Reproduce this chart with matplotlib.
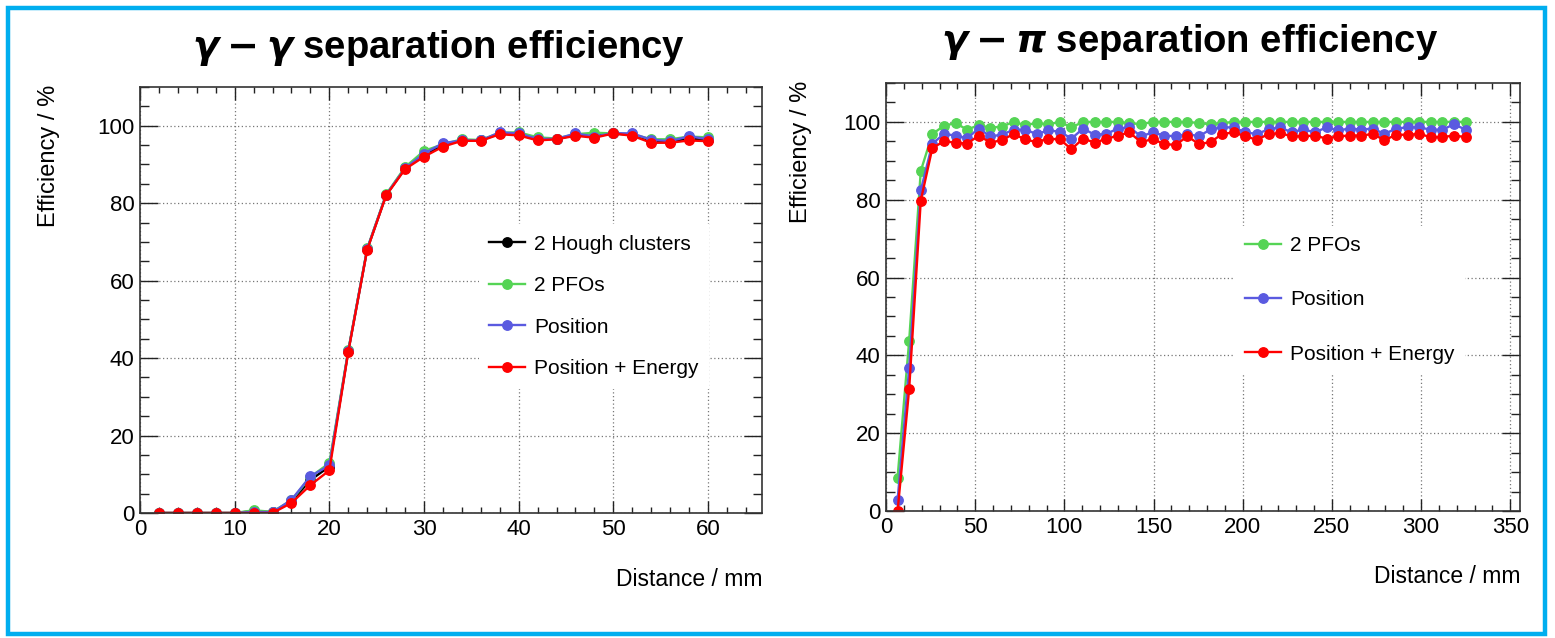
import matplotlib
matplotlib.use("Agg")
import matplotlib.pyplot as plt
from matplotlib.patches import Rectangle
from matplotlib.ticker import MultipleLocator

# gamma - gamma : distances (mm) et efficacites (%)
gg_dist = [2, 4, 6, 8, 10, 12, 14, 16, 18, 20, 22, 24, 26, 28, 30,
           32, 34, 36, 38, 40, 42, 44, 46, 48, 50, 52, 54, 56, 58, 60]
gg_hough = [0, 0, 0, 0, 0, 0.5, 0.2, 3.0, 8.5, 12.0, 41.8, 68.1, 82.1, 89.0, 92.5,
            95.0, 96.2, 96.2, 98.0, 97.8, 96.5, 96.6, 97.6, 97.3, 98.0, 97.6, 96.0, 95.8, 96.8, 96.3]
gg_pfo = [0, 0, 0, 0, 0, 0.7, 0.3, 3.3, 9.3, 12.9, 42.0, 68.3, 82.3, 89.3, 93.5,
          95.2, 96.5, 96.3, 98.2, 98.3, 97.0, 96.7, 97.8, 98.2, 98.0, 97.8, 96.5, 96.5, 97.2, 97.0]
gg_pos = [0, 0, 0, 0, 0, 0.3, 0.2, 3.4, 9.5, 12.3, 41.8, 68.2, 82.2, 89.0, 92.8,
          95.5, 96.2, 96.2, 98.3, 98.0, 96.6, 96.6, 98.0, 97.2, 98.1, 98.0, 96.4, 96.0, 97.3, 96.5]
gg_pose = [0, 0, 0, 0, 0, 0, 0, 2.6, 7.2, 11.0, 41.6, 68.0, 82.0, 88.8, 92.0,
           94.6, 96.1, 96.1, 97.8, 97.5, 96.2, 96.5, 97.4, 96.9, 98.0, 97.4, 95.6, 95.6, 96.2, 96.0]

# gamma - pi
gp_dist = [6.5, 13, 19.5, 26, 32.5, 39, 45.5, 52, 58.5, 65,
           71.5, 78, 84.5, 91, 97.5, 104, 110.5, 117, 123.5, 130,
           136.5, 143, 149.5, 156, 162.5, 169, 175.5, 182, 188.5, 195,
           201.5, 208, 214.5, 221, 227.5, 234, 240.5, 247, 253.5, 260,
           266.5, 273, 279.5, 286, 292.5, 299, 305.5, 312, 318.5, 325]
gp_pfo = [8.6, 43.8, 87.4, 96.9, 99.0, 99.7, 98.0, 99.2, 98.5, 98.8,
          100, 99.2, 99.7, 99.4, 100, 98.6, 100, 100, 100, 100,
          99.7, 99.4, 100, 100, 100, 100, 99.7, 99.4, 99.7, 100,
          100, 100, 100, 100, 100, 100, 100, 100, 100, 100,
          100, 100, 100, 100, 100, 100, 100, 100, 100, 100]
gp_pos = [2.8, 36.7, 82.4, 94.4, 96.9, 96.5, 95.8, 98.3, 96.3, 96.7,
          98.0, 98.0, 96.9, 97.8, 97.5, 95.7, 98.3, 96.7, 96.9, 98.3,
          98.6, 96.3, 97.3, 96.5, 96.3, 96.9, 96.3, 98.1, 98.6, 98.6,
          97.3, 96.9, 98.1, 98.6, 97.3, 98.1, 97.3, 98.6, 97.8, 98.3,
          98.0, 98.3, 96.9, 98.3, 98.6, 98.6, 98.0, 98.0, 99.4, 98.0]
gp_pose = [0, 31.4, 79.8, 93.3, 95.0, 94.7, 94.4, 96.5, 94.7, 95.3,
           96.9, 95.5, 94.8, 95.7, 95.5, 93.0, 95.7, 94.7, 95.6, 96.5,
           97.3, 94.8, 95.6, 94.3, 94.1, 96.3, 94.3, 94.8, 96.9, 97.3,
           96.3, 95.4, 96.9, 97.1, 96.3, 96.3, 96.5, 95.7, 96.3, 96.5,
           96.5, 96.9, 95.3, 96.7, 96.7, 96.9, 96.1, 96.1, 96.5, 96.1]

GREEN = "#55d455"
BLUE = "#5a5ae0"
RED = "#ff0000"

plt.rcParams["font.family"] = ["Liberation Sans", "DejaVu Sans"]
plt.rcParams["mathtext.fontset"] = "custom"
plt.rcParams["mathtext.it"] = "DejaVu Sans:italic:bold"
plt.rcParams["mathtext.rm"] = "DejaVu Sans:bold"

W, H = 1555, 638
fig = plt.figure(figsize=(W / 100, H / 100), dpi=100)


def px_axes(x0, y0, x1, y1):
    return fig.add_axes([x0 / W, 1 - y1 / H, (x1 - x0) / W, (y1 - y0) / H])


def style_axes(ax, xmax, xmaj, xmin_step):
    ax.set_xlim(0, xmax)
    ax.set_ylim(0, 110)
    ax.xaxis.set_major_locator(MultipleLocator(xmaj))
    ax.xaxis.set_minor_locator(MultipleLocator(xmin_step))
    ax.yaxis.set_major_locator(MultipleLocator(20))
    ax.yaxis.set_minor_locator(MultipleLocator(5))
    ax.tick_params(which="both", direction="in", top=True, right=True, labelsize=16, width=1, colors="#222222")
    ax.tick_params(axis="x", which="major", length=9, pad=4)
    ax.tick_params(axis="x", which="minor", length=4.5)
    ax.tick_params(axis="y", which="major", length=13, pad=4)
    ax.tick_params(axis="y", which="minor", length=6.5)
    ax.tick_params(labelcolor="black")
    for s in ax.spines.values():
        s.set_linewidth(1.2)
        s.set_color("#333333")
    ax.grid(True, which="major", color="#777777", linestyle=(0, (1, 2)), linewidth=0.9)
    ax.set_axisbelow(True)


def white_legend(ax, anchor, spacing):
    leg = ax.legend(loc="upper left", bbox_to_anchor=anchor, fontsize=15,
                    labelspacing=spacing, handlelength=1.7, handletextpad=0.45,
                    borderpad=0.5, borderaxespad=0, fancybox=False)
    leg.get_frame().set_edgecolor("none")
    leg.get_frame().set_facecolor("white")
    leg.get_frame().set_alpha(1)
    return leg


kw = dict(marker="o", markersize=6.8, linewidth=1.7)

# --- gamma - gamma
ax1 = px_axes(140, 87, 762, 513)
style_axes(ax1, 65.7, 10, 2)
ax1.plot(gg_dist, gg_hough, color="black", label="2 Hough clusters", **kw)
ax1.plot(gg_dist, gg_pfo, color=GREEN, label="2 PFOs", **kw)
ax1.plot(gg_dist, gg_pos, color=BLUE, label="Position", **kw)
ax1.plot(gg_dist, gg_pose, color=RED, label="Position + Energy", **kw)
white_legend(ax1, (0.545, 0.678), 1.08)
ax1.set_ylabel("Efficiency / %", fontsize=17, loc="top")
ax1.yaxis.set_label_coords(-0.128, 1.005)
ax1.set_xlabel("Distance / mm", fontsize=16.5, loc="right")
ax1.xaxis.set_label_coords(1.0, -0.13)
fig.text(439 / W, 1 - 48 / H, r"$\gamma-\gamma$ separation efficiency",
         fontweight="bold", fontsize=27.5, ha="center", va="center")

# --- gamma - pi
ax2 = px_axes(886, 83, 1520, 511)
style_axes(ax2, 355.5, 50, 10)
ax2.plot(gp_dist, gp_pfo, color=GREEN, label="2 PFOs", **kw)
ax2.plot(gp_dist, gp_pos, color=BLUE, label="Position", **kw)
ax2.plot(gp_dist, gp_pose, color=RED, label="Position + Energy", **kw)
white_legend(ax2, (0.55, 0.667), 1.7)
ax2.set_ylabel("Efficiency / %", fontsize=17, loc="top")
ax2.yaxis.set_label_coords(-0.116, 1.005)
ax2.set_xlabel("Distance / mm", fontsize=16.5, loc="right")
ax2.xaxis.set_label_coords(1.0, -0.127)
fig.text(1190 / W, 1 - 42 / H, r"$\gamma-\pi$ separation efficiency",
         fontweight="bold", fontsize=27.5, ha="center", va="center")

# cadre bleu autour de la figure
fig.patches.append(Rectangle((8 / W, 4 / H), (1545 - 8) / W, (634 - 8) / H, transform=fig.transFigure,
                             fill=False, edgecolor="#00aeef", linewidth=3.2))

fig.savefig("out.png", dpi=100)
